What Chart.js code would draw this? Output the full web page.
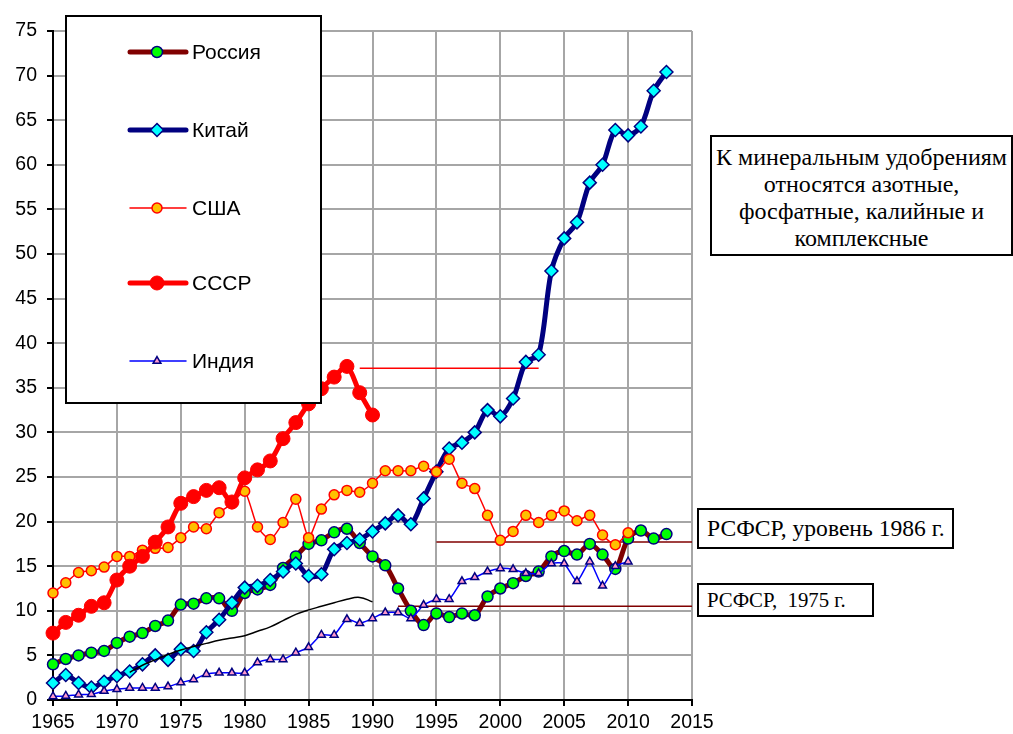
<!DOCTYPE html>
<html>
<head>
<meta charset="utf-8">
<script src="https://cdn.jsdelivr.net/npm/chart.js@4/dist/chart.umd.min.js"></script>
<style>
body { margin: 0; background: #fff; }
#wrap { position: relative; width: 1013px; height: 734px; }
.caixa { position: absolute; background: #fff; border: 2px solid #000; box-sizing: border-box;
         font-family: "Liberation Serif", "Times New Roman", serif; color: #000; white-space: pre; }
</style>
</head>
<body>
<div id="wrap">
  <canvas id="grafico"></canvas>
  <div class="caixa" id="nota" style="left:710px;top:135px;width:303px;height:121px;font-size:24px;line-height:27px;text-align:center;padding-top:7px;">К минеральным удобрениям
относятся азотные,
фосфатные, калийные и
комплексные</div>
  <div class="caixa" style="left:697px;top:508px;width:257px;height:41px;font-size:23.6px;line-height:37px;padding-left:8px;">РСФСР, уровень 1986 г.</div>
  <div class="caixa" style="left:697px;top:583px;width:177px;height:34px;font-size:20.8px;line-height:30px;padding-left:8px;">РСФСР,  1975 г.</div>
</div>
<script>
// anos
const anos = [1965,1966,1967,1968,1969,1970,1971,1972,1973,1974,
              1975,1976,1977,1978,1979,1980,1981,1982,1983,1984,
              1985,1986,1987,1988,1989,1990,1991,1992,1993,1994,
              1995,1996,1997,1998,1999,2000,2001,2002,2003,2004,
              2005,2006,2007,2008,2009,2010,2011,2012,2013];

// séries
const russia = [4.0,4.6,5.0,5.3,5.5,6.4,7.1,7.5,8.3,8.9,
                10.7,10.8,11.4,11.4,10.0,12.0,12.4,12.9,14.8,16.1,
                17.5,17.9,18.8,19.2,17.6,16.1,15.1,12.5,10.0,8.4,
                9.7,9.3,9.7,9.5,11.6,12.5,13.1,13.9,14.4,16.1,
                16.7,16.3,17.5,16.3,14.7,18.1,19.0,18.1,18.6];
const china = [1.9,2.8,1.9,1.4,2.05,2.7,3.2,4.0,5.0,4.5,
               5.7,5.5,7.6,9.0,10.9,12.6,12.8,13.45,14.4,15.3,
               13.9,14.1,16.9,17.6,18.0,18.9,19.8,20.7,19.7,22.6,
               25.6,28.2,28.85,30.0,32.5,31.8,33.8,37.9,38.7,48.1,
               51.75,53.55,58.0,60.0,63.9,63.3,64.3,68.3,70.4];
const eua = [12.0,13.15,14.3,14.5,14.9,16.1,16.1,16.8,17.0,17.1,
             18.2,19.4,19.2,21.0,22.0,23.4,19.4,18.0,19.9,22.5,
             18.2,21.4,23.0,23.5,23.3,24.3,25.7,25.7,25.7,26.2,
             25.6,27.0,24.3,23.7,20.7,17.9,18.9,20.7,19.9,20.7,
             21.2,20.1,20.7,18.5,17.4,18.75];
const urss = [7.5,8.7,9.5,10.5,10.9,13.45,15.0,16.1,17.7,19.4,
              22.05,22.8,23.5,23.8,22.2,24.9,25.8,26.8,29.3,31.1,
              33.2,34.9,36.2,37.4,34.45,31.95];
const india = [0.4,0.45,0.6,0.65,1.0,1.2,1.35,1.35,1.35,1.5,
               1.95,2.3,2.9,3.05,3.05,3.05,4.2,4.55,4.55,5.3,
               5.9,7.3,7.3,9.05,8.6,9.15,9.8,9.8,9.15,10.65,
               11.3,11.3,13.3,13.75,14.4,14.75,14.65,14.2,14.2,15.3,
               15.3,13.3,15.5,12.8,15.0,15.5];
// curva preta (1971-1990)
const anosCurva = [1971,1972,1973,1974,1975,1976,1977,1978,1979,1980,
                   1981,1982,1983,1984,1985,1986,1987,1988,1989,1990];
const curva = [3.1,3.9,4.5,5.1,5.6,6.0,6.35,6.7,6.95,7.2,
               7.7,8.2,8.9,9.6,10.1,10.5,10.9,11.3,11.5,11.0];

// linhas de referência
const nivelURSS = [37.2, 37.2];      const anosNivelURSS = [1989, 2003];
const rsfsr1986 = [17.7, 17.7];      const anosRsfsr1986 = [1995, 2015];
const rsfsr1975 = [10.5, 10.5];      const anosRsfsr1975 = [1992, 2015];

// eixos
const ticksY = [0,5,10,15,20,25,30,35,40,45,50,55,60,65,70,75];
const ticksX = [1965,1970,1975,1980,1985,1990,1995,2000,2005,2010,2015];

function pontos(xs, ys) {
  return ys.map((v, i) => ({ x: xs[i], y: v }));
}

function desenharMarcador(ctx, estilo, x, y, r, fundo, borda, bw) {
  ctx.beginPath();
  if (estilo === 'circle') {
    ctx.arc(x, y, r, 0, Math.PI * 2);
  } else if (estilo === 'rectRot') {
    ctx.moveTo(x, y - r); ctx.lineTo(x + r, y); ctx.lineTo(x, y + r); ctx.lineTo(x - r, y); ctx.closePath();
  } else if (estilo === 'triangle') {
    let a = 0;
    ctx.moveTo(x + Math.sin(a) * r, y - Math.cos(a) * r);
    a += Math.PI * 2 / 3;
    ctx.lineTo(x + Math.sin(a) * r, y - Math.cos(a) * r);
    a += Math.PI * 2 / 3;
    ctx.lineTo(x + Math.sin(a) * r, y - Math.cos(a) * r);
    ctx.closePath();
  }
  ctx.fillStyle = fundo;
  ctx.fill();
  if (bw) { ctx.lineWidth = bw; ctx.strokeStyle = borda; ctx.stroke(); }
}

// legenda em caixa (como no Excel)
const legendaCaixa = {
  id: 'legendaCaixa',
  afterDatasetsDraw(chart) {
    const ctx = chart.ctx;
    ctx.save();
    ctx.fillStyle = '#fff';
    ctx.fillRect(66, 16, 255, 387);
    ctx.lineWidth = 2;
    ctx.strokeStyle = '#000';
    ctx.strokeRect(66, 16, 255, 387);
    const posY = [52, 130, 208, 283, 361];
    let i = 0;
    chart.data.datasets.forEach(ds => {
      if (!ds.label) return;
      const y = posY[i++];
      ctx.beginPath();
      ctx.moveTo(130, y);
      ctx.lineTo(186, y);
      ctx.lineWidth = ds.borderWidth;
      ctx.strokeStyle = ds.borderColor;
      ctx.lineCap = 'round';
      ctx.stroke();
      desenharMarcador(ctx, ds.pointStyle, 157, y, ds.pointRadius, ds.pointBackgroundColor, ds.pointBorderColor, ds.pointBorderWidth);
      ctx.fillStyle = '#000';
      ctx.font = '21px "Liberation Sans", Arial, sans-serif';
      ctx.textBaseline = 'middle';
      ctx.textAlign = 'left';
      ctx.fillText(ds.label, 192, y + 1);
    });
    ctx.restore();
  }
};

const fonteEixo = { family: '"Liberation Sans", Arial, sans-serif', size: 19.5 };

new Chart(document.getElementById('grafico'), {
  type: 'line',
  data: {
    datasets: [
      {
        label: 'Россия', data: pontos(anos, russia), order: 5, clip: false,
        borderColor: '#800000', borderWidth: 5, tension: 0.3,
        pointStyle: 'circle', pointRadius: 5.5, pointBackgroundColor: '#00ff00',
        pointBorderColor: '#000080', pointBorderWidth: 1.5
      },
      {
        label: 'Китай', data: pontos(anos, china), order: 4, clip: false,
        borderColor: '#000080', borderWidth: 5, tension: 0.3,
        pointStyle: 'rectRot', pointRadius: 6.5, pointBackgroundColor: '#00ffff',
        pointBorderColor: '#000080', pointBorderWidth: 1.5
      },
      {
        label: 'США', data: pontos(anos, eua), order: 3, clip: false,
        borderColor: '#ff0000', borderWidth: 1.5, tension: 0.2,
        pointStyle: 'circle', pointRadius: 5, pointBackgroundColor: '#ffc000',
        pointBorderColor: '#ff0000', pointBorderWidth: 1.5
      },
      {
        label: 'СССР', data: pontos(anos, urss), order: 2, clip: false,
        borderColor: '#ff0000', borderWidth: 5, tension: 0.3,
        pointStyle: 'circle', pointRadius: 7, pointBackgroundColor: '#ff0000',
        pointBorderColor: '#ff0000', pointBorderWidth: 1
      },
      {
        label: 'Индия', data: pontos(anos, india), order: 1, clip: false,
        borderColor: '#0000ff', borderWidth: 1.5, tension: 0.2,
        pointStyle: 'triangle', pointRadius: 4.5, pointBackgroundColor: '#ff99cc',
        pointBorderColor: '#000080', pointBorderWidth: 1.5
      },
      {
        data: pontos(anosCurva, curva), order: 0,
        borderColor: '#000', borderWidth: 1.5, tension: 0.4, pointRadius: 0
      },
      {
        data: pontos(anosNivelURSS, nivelURSS), order: 6,
        borderColor: '#ff0000', borderWidth: 1.5, pointRadius: 0
      },
      {
        data: pontos(anosRsfsr1986, rsfsr1986), order: 6,
        borderColor: '#800000', borderWidth: 1.5, pointRadius: 0
      },
      {
        data: pontos(anosRsfsr1975, rsfsr1975), order: 6,
        borderColor: '#800000', borderWidth: 1.5, pointRadius: 0
      }
    ]
  },
  options: {
    responsive: true,
    maintainAspectRatio: false,
    animation: false,
    layout: { padding: { top: 31, right: 321, left: 0, bottom: 0 } },
    plugins: { legend: { display: false }, tooltip: { enabled: false } },
    scales: {
      x: {
        type: 'linear', min: 1965, max: 2015,
        afterBuildTicks: axis => { axis.ticks = ticksX.map(v => ({ value: v })); },
        afterFit: axis => { axis.height = 34; },
        ticks: { color: '#000', font: fonteEixo, padding: 5, maxRotation: 0, callback: v => String(v) },
        grid: { color: '#a6a6a6', lineWidth: 2, tickLength: 6, tickColor: '#000', tickWidth: 2 },
        border: { color: '#000', width: 2 }
      },
      y: {
        min: 0, max: 75,
        afterBuildTicks: axis => { axis.ticks = ticksY.map(v => ({ value: v })); },
        afterFit: axis => { axis.width = 53; },
        ticks: { color: '#000', font: fonteEixo, padding: 10 },
        grid: { color: '#a6a6a6', lineWidth: 2, tickLength: 6, tickColor: '#000', tickWidth: 2 },
        border: { color: '#000', width: 2 }
      }
    }
  },
  plugins: [legendaCaixa]
});
</script>
</body>
</html>
